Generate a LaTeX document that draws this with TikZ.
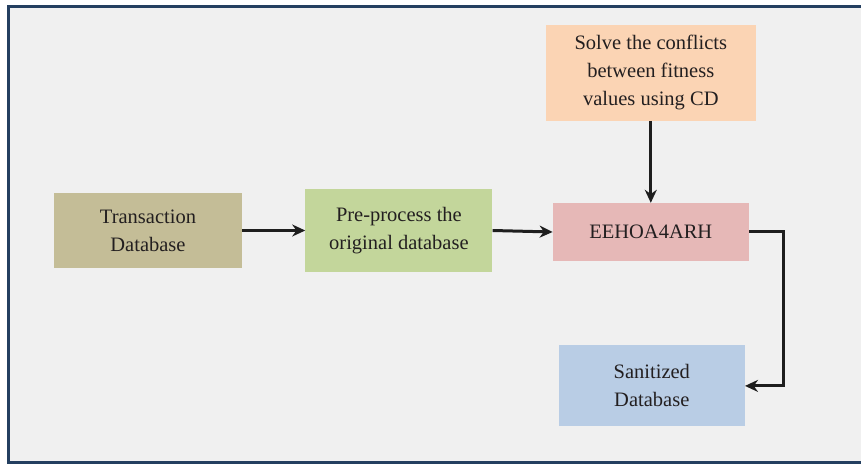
\documentclass[tikz,border=0pt]{standalone}
\usepackage{fontspec}
\setmainfont{Liberation Serif}
\usetikzlibrary{arrows.meta, positioning}
\definecolor{frameblue}{HTML}{243F60}
\definecolor{panelgray}{HTML}{F0F0F0}
\definecolor{inkgray}{HTML}{231F20}
\definecolor{linegray}{HTML}{1E1E1E}
\definecolor{khaki}{HTML}{C4BD97}
\definecolor{sage}{HTML}{C3D69B}
\definecolor{rose}{HTML}{E6B8B7}
\definecolor{peach}{HTML}{FBD4B4}
\definecolor{skyblue}{HTML}{B9CDE5}
\tikzstyle{block} = [rectangle, inner sep=0pt, text centered, align=center, text=inkgray, font=\fontsize{20.5}{28}\selectfont]
\tikzstyle{source} = [block, minimum width=188pt, minimum height=75pt, fill=khaki]
\tikzstyle{prep} = [block, minimum width=187pt, minimum height=83pt, fill=sage]
\tikzstyle{method} = [block, minimum width=196pt, minimum height=58pt, fill=rose]
\tikzstyle{conflict} = [block, minimum width=210pt, minimum height=96pt, fill=peach]
\tikzstyle{result} = [block, minimum width=186pt, minimum height=81pt, fill=skyblue]
\tikzstyle{arrow} = [line width=3pt, draw=linegray, ->, >={Stealth[length=13pt,width=12pt]}]

\begin{document}
\begin{tikzpicture}[x=1pt, y=1pt]
        \useasboundingbox (0,0) rectangle (861,466);
        \fill[panelgray] (8.5,3.5) rectangle (870,459.7);
        \draw[frameblue, line width=3.2pt] (8.5,3.5) rectangle (870,459.7);
        \node (trans) [source] at (148,235.5) {Transaction\\Database};
   	\node (preproc) [prep, right=63pt of trans] {Pre-process the\\original database};
	\node (eehoa) [method, right=60pt of preproc, yshift=-1.5pt] {EEHOA4ARH};
        \node (solve) [conflict, above=82pt of eehoa] {Solve the conflicts\\between fitness\\values using CD};
        \node (sanit) [result, below=84pt of eehoa, xshift=1pt] {Sanitized\\Database};
	\draw [arrow] (trans) -- (preproc);
	\draw [arrow] (preproc.east) -- (eehoa.west);
	\draw [arrow] (solve) -- (eehoa);
	\draw [arrow] (eehoa.east) -- ++(34,0) |- (sanit.east);
\end{tikzpicture}
\end{document}
